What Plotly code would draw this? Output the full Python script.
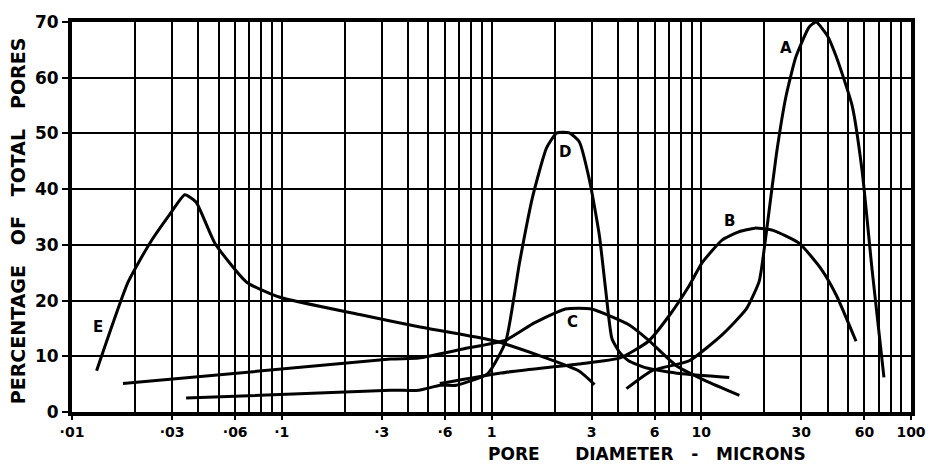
import math
import plotly.graph_objects as go

# ---- data ----
A_x = [4.4, 5.8, 8.77, 12.6, 16.4, 18.9, 20.4, 22.8, 25.4, 28.3, 32.7, 35.3, 40, 44, 52.4, 58.5, 65.2, 74.3]
A_y = [4.2, 7.4, 9.2, 13.9, 18.5, 23.5, 32.0, 46.2, 56.8, 63.8, 69.1, 70.0, 67.5, 63.8, 55, 43.2, 25.6, 6.2]

B_x = [0.567, 1.11, 2.6, 4.1, 5.6, 7.1, 8.77, 10.1, 12.6, 15, 18, 22, 29.3, 37.4, 44, 54.7]
B_y = [5.1, 7.0, 8.6, 9.7, 12.7, 17.5, 22.7, 26.8, 30.9, 32.3, 33.0, 32.6, 30.3, 25.6, 21, 12.7]

C_x = [0.0175, 0.33, 0.45, 0.73, 1.17, 1.6, 2.25, 3.0, 4.5, 5.6, 7.6, 10.5, 15.2]
C_y = [5.1, 9.5, 9.7, 11.3, 12.9, 16.0, 18.5, 18.5, 15.7, 12.9, 8.3, 5.6, 3.0]

D_x = [0.035, 0.33, 0.45, 0.57, 0.68, 0.96, 1.17, 1.36, 1.57, 1.83, 2.05, 2.35, 2.62, 2.94, 3.27, 3.5, 3.75, 4.1, 4.5, 5.5, 7.9, 13.6]
D_y = [2.5, 3.9, 3.9, 4.8, 4.8, 6.9, 12.7, 26.8, 38.6, 47.4, 50.1, 50.1, 48.5, 41.4, 31.6, 22.0, 13.2, 10.6, 9.2, 7.9, 6.9, 6.2]

E_x = [0.0131, 0.0185, 0.0235, 0.0293, 0.0345, 0.039, 0.048, 0.068, 0.098, 0.235, 0.45, 1.05, 2.6, 3.1]
E_y = [7.4, 23.3, 30.3, 35.5, 39, 37.7, 30.3, 23.3, 20.6, 17.5, 15.3, 12.7, 7.4, 4.9]

curve_labels = ["A", "B", "C", "D", "E"]
label_x = [25.4, 13.6, 2.43, 2.24, 0.0133]
label_y = [65.3, 34.2, 16.2, 46.6, 15.3]

x_tickvals = [0.01, 0.03, 0.06, 0.1, 0.3, 0.6, 1, 3, 6, 10, 30, 60, 100]
x_ticktext = ["·01", "·03", "·06", "·1", "·3", "·6", "1", "3", "6", "10", "30", "60", "100"]
x_minor = [m * 10 ** d for d in (-2, -1, 0, 1) for m in range(1, 10)]
y_tickvals = [0, 10, 20, 30, 40, 50, 60, 70]

FONT = "DejaVu Sans"

fig = go.Figure()
for xs, ys in [(A_x, A_y), (B_x, B_y), (C_x, C_y), (D_x, D_y), (E_x, E_y)]:
    fig.add_trace(go.Scatter(
        x=xs, y=ys, mode="lines",
        line=dict(color="black", width=3, shape="spline", smoothing=0.5),
        showlegend=False, hoverinfo="skip",
    ))

for t, lx, ly in zip(curve_labels, label_x, label_y):
    fig.add_annotation(x=math.log10(lx), y=ly, xref="x", yref="y", text=t, showarrow=False,
                       font=dict(family=FONT, size=15, color="black", weight="bold"),
                       xanchor="center", yanchor="middle")

fig.add_annotation(xref="paper", yref="paper", x=-0.064, y=0.49,
                   text="PERCENTAGE   OF   TOTAL   PORES", textangle=-90, showarrow=False,
                   font=dict(family=FONT, size=19, color="black", weight="bold"),
                   xanchor="center", yanchor="middle")
fig.add_annotation(xref="paper", yref="paper", x=0.685, y=-0.108,
                   text="PORE      DIAMETER   -   MICRONS", showarrow=False,
                   font=dict(family=FONT, size=17, color="black", weight="bold"),
                   xanchor="center", yanchor="middle")

fig.update_layout(
    width=938, height=466,
    margin=dict(l=72, r=26, t=15, b=54),
    paper_bgcolor="white", plot_bgcolor="white",
    xaxis=dict(
        type="log", range=[-2, 2],
        tickvals=x_tickvals, ticktext=x_ticktext,
        showgrid=True, gridcolor="black", gridwidth=2,
        minor=dict(tickvals=x_minor, showgrid=True, gridcolor="black", gridwidth=2, ticks=""),
        ticks="outside", ticklen=4, tickwidth=2, tickcolor="black",
        showline=True, linecolor="black", linewidth=4, mirror=True,
        tickfont=dict(family=FONT, size=14, color="black", weight="bold"),
        zeroline=False,
    ),
    yaxis=dict(
        range=[0, 70], tickvals=y_tickvals,
        showgrid=True, gridcolor="black", gridwidth=2,
        ticks="outside", ticklen=6, tickwidth=2, tickcolor="black",
        showline=True, linecolor="black", linewidth=4, mirror=True,
        tickfont=dict(family=FONT, size=17, color="black", weight="bold"),
        zeroline=False,
    ),
)

fig.write_html("out.html")
